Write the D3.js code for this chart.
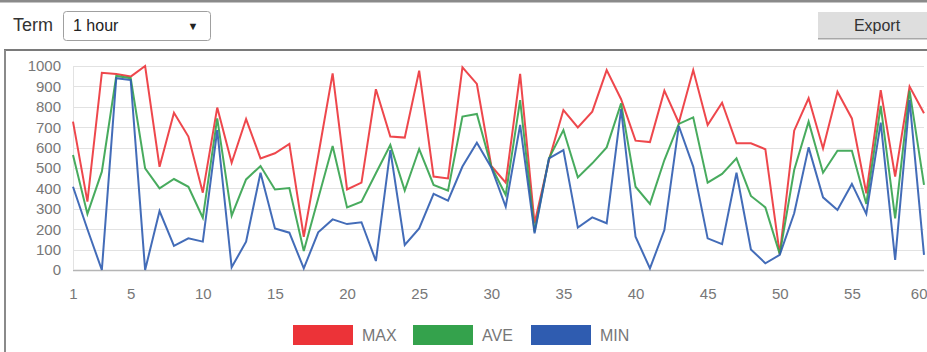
<!DOCTYPE html>
<html lang="en">
<head>
	<meta charset="UTF-8">
	<title>Term chart</title>
	<script src="https://cdnjs.cloudflare.com/ajax/libs/d3/7.8.5/d3.min.js"></script>
	<style>
		body { margin: 0; background: #fff; }
		svg text { font-family: Arial, "Liberation Sans", sans-serif; }
		.axis path, .axis line { stroke: none; }
		.axis text { fill: #777; font-size: 15px; }
	</style>
</head>
<body>
	<div id="container"></div>
	<script>
		var width = 927, height = 352;

		// data
		var xs = d3.range(1, 61);
		var maxVals = [727, 335, 967, 961, 948, 1000, 506, 771, 654, 379, 796, 526, 740, 547, 572, 618, 163, 560, 964, 395,
			428, 886, 654, 649, 977, 458, 449, 993, 912, 510, 428, 961, 229, 539, 784, 699, 776, 980, 837, 634,
			627, 879, 722, 980, 711, 820, 621, 621, 592, 78, 683, 842, 596, 874, 743, 376, 882, 458, 899, 768];
		var aveVals = [564, 275, 482, 951, 940, 498, 400, 446, 408, 256, 743, 266, 444, 510, 395, 402, 93, 350, 608, 307,
			335, 474, 613, 389, 593, 417, 389, 752, 765, 507, 368, 833, 188, 547, 686, 454, 523, 601, 817, 408,
			324, 539, 716, 748, 428, 471, 547, 363, 307, 78, 490, 727, 477, 585, 585, 324, 804, 253, 879, 417];
		var minVals = [408, 200, 0, 940, 931, 0, 289, 118, 155, 139, 686, 13, 139, 477, 204, 183, 8, 185, 248, 225,
			234, 44, 588, 123, 204, 373, 340, 507, 624, 503, 310, 711, 180, 547, 588, 208, 258, 229, 788, 163,
			8, 196, 706, 507, 155, 127, 477, 101, 33, 74, 278, 601, 356, 294, 422, 275, 722, 49, 833, 74];
		var seriesNames = ["MAX", "AVE", "MIN"];
		var seriesColors = ["#ec3338", "#34a24c", "#2f5cb0"];
		var xTicks = [1, 5, 10, 15, 20, 25, 30, 35, 40, 45, 50, 55, 60];
		var yTicks = d3.range(0, 1001, 100);

		var svg = d3.select("#container").append("svg")
				.attr("width", width)
				.attr("height", height);

		// page chrome: top bar, term select, export button, chart frame
		svg.append("rect").attr("x", 0).attr("y", 0).attr("width", width).attr("height", 2.5).attr("fill", "#8a8a8a");

		svg.append("text").attr("x", 13).attr("y", 31)
				.style("font-size", "18px").attr("fill", "#333").text("Term");

		svg.append("rect").attr("x", 63.5).attr("y", 11.5).attr("width", 147).attr("height", 29).attr("rx", 3)
				.attr("fill", "#fff").attr("stroke", "#a0a0a0");
		svg.append("text").attr("x", 73).attr("y", 31)
				.style("font-size", "16px").attr("fill", "#222").text("1 hour");
		svg.append("text").attr("x", 193).attr("y", 30).attr("text-anchor", "middle")
				.style("font-size", "11px").attr("fill", "#222").text("▼");

		svg.append("rect").attr("x", 818).attr("y", 12).attr("width", 120).attr("height", 27)
				.attr("fill", "#dedede");
		svg.append("rect").attr("x", 818).attr("y", 38).attr("width", 120).attr("height", 1.5)
				.attr("fill", "#a8a8a8");
		svg.append("text").attr("x", 877).attr("y", 31).attr("text-anchor", "middle")
				.style("font-size", "16px").attr("fill", "#333").text("Export");

		svg.append("line").attr("x1", 4).attr("x2", width).attr("y1", 50).attr("y2", 50)
				.attr("stroke", "#7a7a7a").attr("stroke-width", 2);
		svg.append("line").attr("x1", 5).attr("x2", 5).attr("y1", 50).attr("y2", height)
				.attr("stroke", "#8a8a8a").attr("stroke-width", 2);

		// scales
		var x = d3.scaleLinear().domain([1, 60]).range([73, 924]);
		var y = d3.scaleLinear().domain([0, 1000]).range([270, 66]);

		// grid
		svg.append("g").selectAll("line").data(yTicks)
			.enter().append("line")
				.attr("x1", x(1)).attr("x2", x(60))
				.attr("y1", d => Math.round(y(d)) + 0.5).attr("y2", d => Math.round(y(d)) + 0.5)
				.attr("stroke", d => d === 0 ? "#b5b5b5" : "#e2e2e2")
				.attr("stroke-width", d => d === 0 ? 1.5 : 1);
		svg.append("line").attr("x1", x(1) + 0.5).attr("x2", x(1) + 0.5).attr("y1", y(1000)).attr("y2", y(0))
				.attr("stroke", "#e2e2e2");

		// axes
		svg.append("g").attr("class", "axis")
				.attr("transform", "translate(" + (x(1) - 8) + ",0)")
				.call(d3.axisLeft(y).tickValues(yTicks).tickFormat(d3.format("d")).tickSize(0).tickPadding(4));
		var xAxisG = svg.append("g").attr("class", "axis")
				.attr("transform", "translate(0," + (y(0) + 14) + ")")
				.call(d3.axisBottom(x).tickValues(xTicks).tickSize(0).tickPadding(4));
		// last label sits at the right edge, keep it inside
		xAxisG.selectAll(".tick text").filter(d => d === 60)
				.attr("text-anchor", "end").attr("dx", 3);

		// lines
		var allSeries = [maxVals, aveVals, minVals];
		var line = d3.line()
				.x((d, i) => x(xs[i]))
				.y(d => y(d));

		svg.append("g").selectAll("path").data(allSeries)
			.enter().append("path")
				.attr("d", line)
				.attr("fill", "none")
				.attr("stroke", (d, i) => seriesColors[i])
				.attr("stroke-width", 2)
				.attr("stroke-linejoin", "miter")
				.attr("opacity", 0.9);

		// legend
		var legendX = [293, 413, 531];
		var legend = svg.append("g").selectAll("g").data(seriesNames)
			.enter().append("g")
				.attr("transform", (d, i) => "translate(" + legendX[i] + ",325)");
		legend.append("rect")
				.attr("width", 60).attr("height", 20)
				.attr("fill", (d, i) => seriesColors[i]);
		legend.append("text")
				.attr("x", 69).attr("y", 16)
				.style("font-size", "16px").attr("fill", "#777")
				.text(d => d);
	</script>
</body>
</html>
